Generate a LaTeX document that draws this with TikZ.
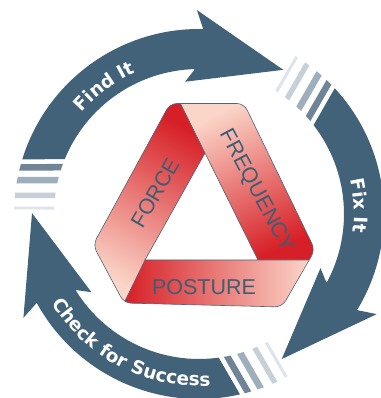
\documentclass[tikz,border=0pt]{standalone}
\usepackage{fontspec}
\setmainfont{Liberation Sans}
\newfontfamily\ringfont{DejaVu Sans}
\usetikzlibrary{decorations.text}
\definecolor{ringblue}{RGB}{66,98,122}
\definecolor{stA}{RGB}{111,132,150}
\definecolor{stB}{RGB}{159,174,187}
\definecolor{stC}{RGB}{198,208,217}
\definecolor{stD}{RGB}{221,228,234}
\definecolor{dred}{RGB}{214,31,38}
\definecolor{mred}{RGB}{230,100,100}
\definecolor{lpink}{RGB}{251,213,200}
\definecolor{edgeblue}{RGB}{80,100,120}
\definecolor{tritxt}{RGB}{62,92,116}
\newcommand\ringstripe[3]{%
  \fill[#3] ({180-asin(#2/185)}:185) arc[start angle={180-asin(#2/185)}, end angle={180-asin(#1/185)}, radius=185]
   -- ({180-asin(#1/145)}:145) arc[start angle={180-asin(#1/145)}, end angle={180-asin(#2/145)}, radius=145] -- cycle;}
\newcommand\ringtxt{\color{white}\ringfont\bfseries\fontsize{18.5}{18.5}\selectfont}
\tikzset{
  ringarrow/.style={fill=ringblue},
  tritext/.style={text=tritxt, inner sep=0pt, font=\fontsize{21.5}{21.5}\selectfont},
  triedge/.style={draw=edgeblue, line width=0.6pt}
}
\begin{document}
\begin{tikzpicture}[x=1pt,y=1pt]
\useasboundingbox (0,0) rectangle (380,398);
\fill[white] (0,0) rectangle (380,398);
% ring arrows with fading stripes
\foreach \rot in {0,-120,-240}{
 \begin{scope}[shift={(199,184)}, rotate=\rot]
  \fill[ringarrow] (162.8:185) arc[start angle=162.8, end angle=88.7, radius=185]
     -- (90.6:204) -- (59.7:167) -- (96:133) -- (91.6:145)
     arc[start angle=91.6, end angle=157.8, radius=145] -- cycle;
  \ringstripe{43.5}{50}{stA}
  \ringstripe{30.5}{37}{stB}
  \ringstripe{16}{21.3}{stC}
  \ringstripe{4.5}{7.5}{stD}
 \end{scope}
}
% ring texts
\begin{scope}[shift={(199,184)}]
 \path[decorate, decoration={text along path, text align=center, text={|\ringtxt|Find It}}]
   (145:155) arc[start angle=145, end angle=108, radius=155];
 \path[decorate, decoration={text along path, text align=center, text={|\ringtxt|Fix It}}]
   (22:155) arc[start angle=22, end angle=-16, radius=155];
 \path[decorate, decoration={text along path, text align=center, text={|\ringtxt|Check for Success}}]
   (210:172) arc[start angle=210, end angle=275, radius=172];
\end{scope}
% triangle ribbon
\coordinate (P1) at (170,294.5);
\coordinate (P2) at (244,294.5);
\coordinate (P3) at (315,148);
\coordinate (Q) at (309,138);
\coordinate (P4) at (282,91);
\coordinate (P5) at (124,95);
\coordinate (P6) at (93,153);
\coordinate (F1) at (180.5,294.5);
\coordinate (T) at (205,245);
\coordinate (BL) at (145,138);
\coordinate (BR) at (258,138);
\begin{scope}
 \clip[rounded corners=7] (P1) -- (P2) -- (P3) -- (P4) -- (P5) -- (P6) -- cycle;
 \shade[top color=dred, middle color=mred, bottom color=lpink, shading angle=-29]
   (P6) -- (P1) -- (F1) -- (T) -- (BL) -- (P5) -- cycle;
 \shade[top color=lpink, middle color=mred, bottom color=dred, shading angle=26]
   (F1) -- (P2) -- (P3) -- (Q) -- (BR) -- (T) -- cycle;
 \shade[left color=dred, middle color=mred, right color=lpink]
   (BL) -- (BR) -- (Q) -- (P4) -- (P5) -- cycle;
 \draw[triedge] (T) -- (F1) (BR) -- (Q) (BL) -- (P5);
\end{scope}
\draw[triedge, rounded corners=7] (P1) -- (P2) -- (P3) -- (P4) -- (P5) -- (P6) -- cycle;
\draw[triedge] (T) -- (BL) -- (BR) -- cycle;
\node[tritext, rotate=60] (force) at (155,205) {FORCE};
\node[tritext, rotate=-62] (freq) at (256,207) {FREQUENCY};
\node[tritext] (posture) at (204,111) {POSTURE};
\end{tikzpicture}
\end{document}
